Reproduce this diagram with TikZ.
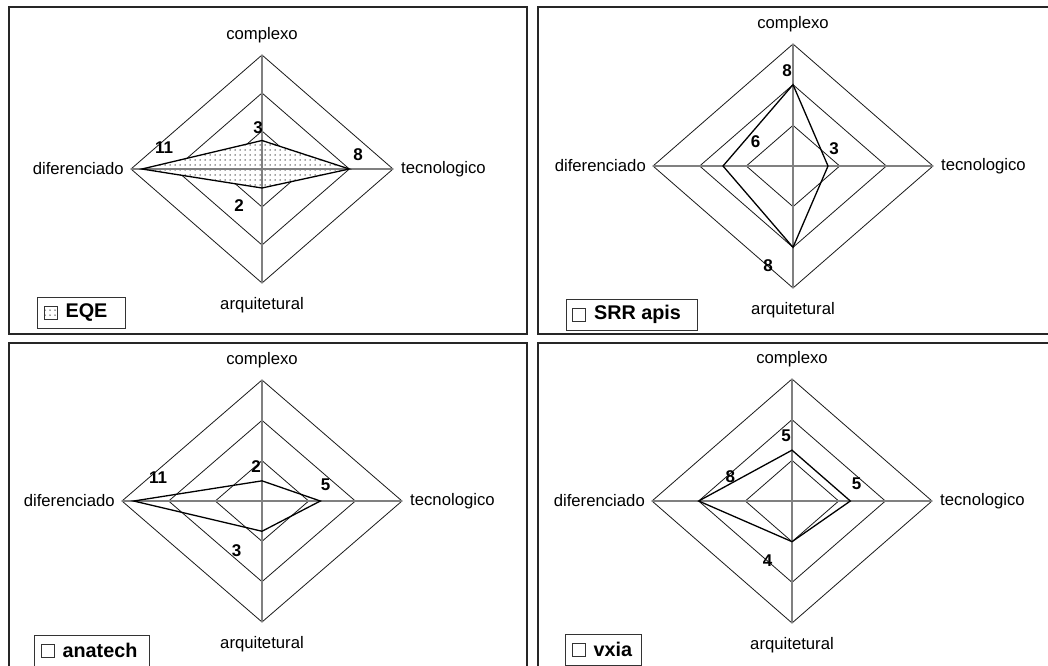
\documentclass[tikz,border=0pt]{standalone}
\usepackage{fontspec}
\setmainfont{Liberation Sans}
\usetikzlibrary{positioning,patterns.meta}

\begin{document}
\begin{tikzpicture}[x=1pt,y=-1pt,
    font=\fontsize{16.7}{19}\selectfont,
    frame/.style={line width=2.4pt,black!85},
    ring/.style={line width=0.8pt,black!90},
    spoke/.style={line width=1.2pt,black!50},
    series/.style={line width=1.3pt,black,line join=miter},
    dotfill/.style={preaction={fill=white},pattern={Dots[distance=5pt,radius=0.75pt]},pattern color=black!75},
    nofill/.style={},
    axislab/.style={inner sep=0pt},
    numlab/.style={inner sep=0pt,font=\fontsize{17}{19}\selectfont\bfseries},
    legbox/.style={draw,line width=0.8pt,black!80,anchor=north west,minimum height=31pt,inner sep=0pt},
    legkey/.style={draw,line width=0.7pt,black!80,minimum size=13pt,inner sep=0pt},
    legtxt/.style={inner sep=0pt,font=\fontsize{19.8}{22}\selectfont\bfseries},
  ]
    \useasboundingbox (0,0) rectangle (1048,665);
    \clip (0,0) rectangle (1048,665);
    \draw[frame]
        (9,7) rectangle (527,334)
        (538,7) rectangle (1070,334)
        (9,343) rectangle (527,690)
        (538,343) rectangle (1070,690);
    % one radar per panel, scale 0..12
    \foreach \p/\cx/\cy/\rx/\ry/\vc/\vt/\va/\vd/\fil in {%
        a/262/169/131/114/3/8/2/11/dotfill,
        b/793/166/140/122/8/3/8/6/nofill,
        c/262/501/140/121/2/5/3/11/nofill,
        d/792/501/140/122/5/5/4/8/nofill%
    }{
        \foreach \k in {1,2,3}{%
            \draw[ring] (\cx,\cy-\k*\ry/3) -- (\cx+\k*\rx/3,\cy)
                -- (\cx,\cy+\k*\ry/3) -- (\cx-\k*\rx/3,\cy) -- cycle;
        }
        \coordinate (\p-n) at (\cx,\cy-\ry);
        \coordinate (\p-e) at (\cx+\rx,\cy);
        \coordinate (\p-s) at (\cx,\cy+\ry);
        \coordinate (\p-w) at (\cx-\rx,\cy);
        \coordinate (\p-vc) at (\cx,\cy-\vc*\ry/12);
        \coordinate (\p-vt) at (\cx+\vt*\rx/12,\cy);
        \coordinate (\p-va) at (\cx,\cy+\va*\ry/12);
        \coordinate (\p-vd) at (\cx-\vd*\rx/12,\cy);
        \path[\fil] (\p-vc) -- (\p-vt) -- (\p-va) -- (\p-vd) -- cycle;
        \draw[spoke] (\p-n) -- (\p-s) (\p-w) -- (\p-e);
        \draw[series] (\p-vc) -- (\p-vt) -- (\p-va) -- (\p-vd) -- cycle;
        \node[axislab,above=12pt of \p-n] (\p-cpx) {complexo};
        \node[axislab,right=8pt of \p-e] (\p-tec) {tecnologico};
        \node[axislab,below=14pt of \p-s] (\p-arq) {arquitetural};
        \node[axislab,left=7pt of \p-w] (\p-dif) {diferenciado};
    }
    \path[nodes={numlab}]
        (258,128) node (a-l1) {3}
        (164,148) node (a-l2) {11}
        (358,155) node (a-l3) {8}
        (239,205.5) node (a-l4) {2}
        (787,70.7) node (b-l1) {8}
        (755.7,141.4) node (b-l2) {6}
        (834,148.8) node (b-l3) {3}
        (768,266) node (b-l4) {8}
        (256,467) node (c-l1) {2}
        (158,477.7) node (c-l2) {11}
        (325.5,484.8) node (c-l3) {5}
        (236.6,550.7) node (c-l4) {3}
        (786,435.4) node (d-l1) {5}
        (730.4,477) node (d-l2) {8}
        (856.7,483.9) node (d-l3) {5}
        (767.5,560.6) node (d-l4) {4};
    % legends
    \foreach \p/\x/\y/\w/\fil/\txt in {%
        a/37/297/88/dotfill/EQE,
        b/565.5/298.6/131/nofill/SRR apis,
        c/34/635/115/nofill/anatech,
        d/565/634/76/nofill/vxia%
    }{
        \node[legbox,minimum width=\w pt] (\p-leg) at (\x,\y) {};
        \node[legkey,\fil] (\p-key) at ([xshift=13.5pt]\p-leg.west) {};
        \node[legtxt,right=8pt of \p-key] (\p-name) {\txt};
    }
\end{tikzpicture}
\end{document}
